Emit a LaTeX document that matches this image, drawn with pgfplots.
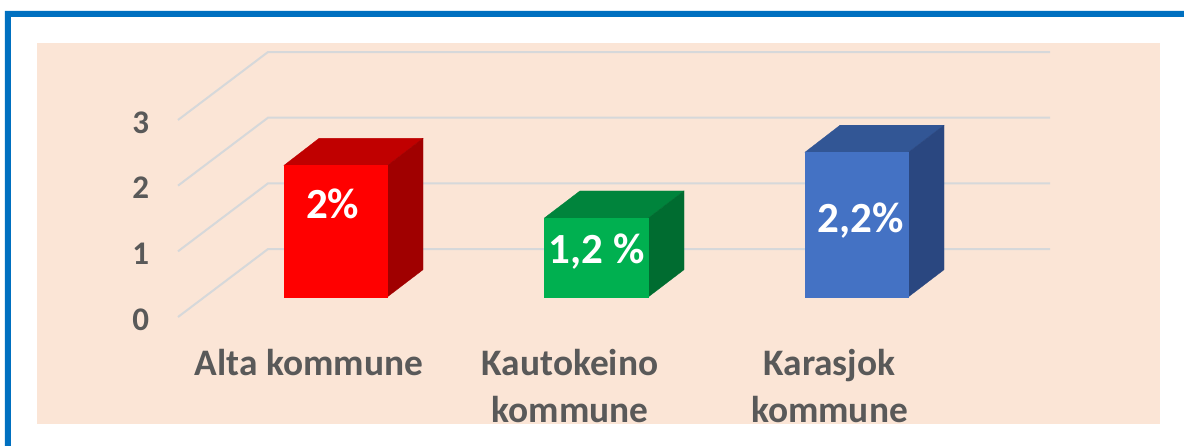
\documentclass[border=0pt]{standalone}
\usepackage{fontspec}
\setmainfont{Carlito}
\usepackage{pgfplots}
\pgfplotsset{compat=1.18}
\definecolor{bgc}{HTML}{FBE5D6}
\definecolor{borderc}{HTML}{0070C0}
\definecolor{gridc}{HTML}{D6D8DA}
\definecolor{textc}{HTML}{595959}
\definecolor{redf}{HTML}{FF0000}\definecolor{redt}{HTML}{C00000}\definecolor{reds}{HTML}{A00000}
\definecolor{grnf}{HTML}{00B050}\definecolor{grnt}{HTML}{00843C}\definecolor{grns}{HTML}{006C30}
\definecolor{bluf}{HTML}{4472C4}\definecolor{blut}{HTML}{325695}\definecolor{blus}{HTML}{2A4780}
\begin{document}
\begin{tikzpicture}[x=1bp,y=1bp]
\begin{axis}[
  scale only axis, width=872bp, height=265bp,
  xmin=178, xmax=1050, ymin=-0.309, ymax=3.726,
  clip=false, axis on top=true,
  axis line style={draw=none}, tick style={draw=none},
  xtick={309,570,829.5},
  xticklabels={Alta kommune,Kautokeino\\kommune,Karasjok\\kommune},
  ytick={-0.309,0.691,1.691,2.691},
  yticklabels={0,1,2,3},
  tick label style={text=textc},
  xticklabel style={font=\fontsize{37.4bp}{47bp}\selectfont\bfseries, align=center, yshift=-29bp},
  yticklabel style={font=\fontsize{33bp}{38bp}\selectfont\bfseries, xshift=-25.5bp, yshift=-2.5bp},
]
% page background, border
\addplot[fill=bgc,draw=none] coordinates {(37,3.863)(1160,3.863)(1160,-1.939)(37,-1.939)} -- cycle;
\addplot[fill=borderc,draw=none] coordinates {(5,-2.272)(5,4.351)(1184,4.351)(1184,4.260)(11,4.260)(11,-2.272)} -- cycle;
% wall gridlines
\addplot[gridc,line width=2bp] coordinates {(178,-0.309)(268,0.726)(1050,0.726)};
\addplot[gridc,line width=2bp] coordinates {(178,0.691)(268,1.726)(1050,1.726)};
\addplot[gridc,line width=2bp] coordinates {(178,1.691)(268,2.726)(1050,2.726)};
\addplot[gridc,line width=2bp] coordinates {(178,2.691)(268,3.726)(1050,3.726)};
% Alta: 2
\addplot[fill=redt,draw=redt,line width=0.3bp] coordinates {(284,2)(387.6,2)(423,2.411)(319,2.411)} -- cycle;
\addplot[fill=reds,draw=reds,line width=0.3bp] coordinates {(387.6,0)(423,0.411)(423,2.411)(387.6,2)} -- cycle;
\addplot[fill=redf,draw=redf,line width=0.3bp] coordinates {(284,0)(387.6,0)(387.6,2)(284,2)} -- cycle;
% Kautokeino: 1.2
\addplot[fill=grnt,draw=grnt,line width=0.3bp] coordinates {(544.5,1.2)(648.6,1.2)(684,1.611)(580,1.611)} -- cycle;
\addplot[fill=grns,draw=grns,line width=0.3bp] coordinates {(648.6,0)(684,0.411)(684,1.611)(648.6,1.2)} -- cycle;
\addplot[fill=grnf,draw=grnf,line width=0.3bp] coordinates {(544.5,0)(648.6,0)(648.6,1.2)(544.5,1.2)} -- cycle;
% Karasjok: 2.2
\addplot[fill=blut,draw=blut,line width=0.3bp] coordinates {(805,2.2)(908.6,2.2)(944,2.611)(840,2.611)} -- cycle;
\addplot[fill=blus,draw=blus,line width=0.3bp] coordinates {(908.6,0)(944,0.411)(944,2.611)(908.6,2.2)} -- cycle;
\addplot[fill=bluf,draw=bluf,line width=0.3bp] coordinates {(805,0)(908.6,0)(908.6,2.2)(805,2.2)} -- cycle;
% data labels
\node[text=white,font=\fontsize{43bp}{44bp}\selectfont\bfseries] at (axis cs:332.7,1.42) {2\%};
\node[text=white,font=\fontsize{43bp}{44bp}\selectfont\bfseries] at (axis cs:596.7,0.68) {1,2 \%};
\node[text=white,font=\fontsize{43bp}{44bp}\selectfont\bfseries] at (axis cs:861,1.16) {2,2\%};
\coordinate (pageSW) at (axis cs:0,-2.2725);
\coordinate (pageNE) at (axis cs:1184,4.518);
\coordinate (maskNW) at (axis cs:37,-1.939);
\coordinate (maskSE) at (axis cs:1160,-2.2725);
\end{axis}
\fill[white] (maskNW) rectangle (maskSE);
\pgfresetboundingbox
\useasboundingbox (pageSW) rectangle (pageNE);
\end{tikzpicture}
\end{document}
